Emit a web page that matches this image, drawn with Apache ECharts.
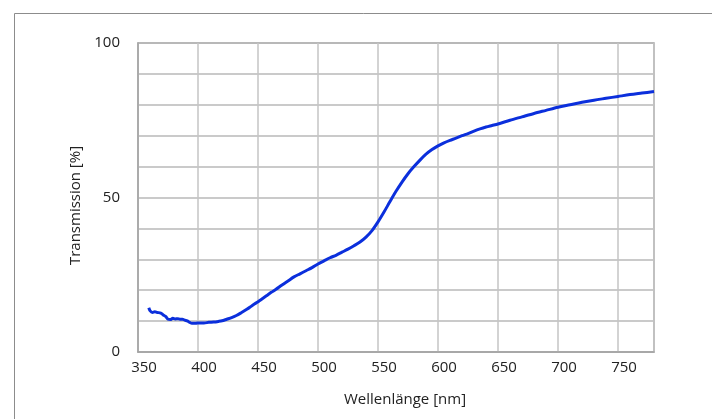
<!DOCTYPE html>
<html>
<head>
<meta charset="utf-8">
<script src="https://cdn.jsdelivr.net/npm/echarts@6/dist/echarts.min.js"></script>
<style>
  html, body { margin: 0; padding: 0; background: #ffffff; }
  #chart { width: 712px; height: 419px; }
</style>
</head>
<body>
<div id="chart"></div>
<script>
// Spectral transmission curve (wavelength in nm, transmission in %)
const wavelength = [
  359, 360, 362, 364, 366, 369, 371, 373, 375, 377, 379, 381, 383, 385, 387, 389,
  391, 393, 395, 398, 401, 405, 409, 413, 417, 420, 424, 428, 432, 436, 441, 445,
  449, 453, 457, 461, 465, 470, 475, 480, 485, 490, 495, 500, 505, 510, 515, 520,
  525, 530, 535, 540, 545, 550, 555, 560, 565, 570, 575, 580, 585, 590, 595, 600,
  605, 610, 615, 620, 625, 630, 635, 640, 645, 650, 660, 670, 680, 690, 700, 710,
  720, 730, 740, 750, 760, 770, 780
];
const transmission = [
  14.3, 13.4, 12.8, 13.0, 12.8, 12.6, 12.0, 11.5, 10.6, 10.5, 10.9, 10.7, 10.8, 10.6, 10.6, 10.3,
  10.1, 9.6, 9.3, 9.3, 9.4, 9.4, 9.6, 9.7, 9.9, 10.1, 10.6, 11.1, 11.8, 12.7, 13.9, 15.0,
  16.0, 17.1, 18.2, 19.3, 20.3, 21.7, 23.0, 24.3, 25.3, 26.3, 27.3, 28.5, 29.5, 30.5, 31.3, 32.3,
  33.3, 34.4, 35.6, 37.2, 39.3, 42.1, 45.3, 48.7, 52.0, 55.0, 57.7, 60.0, 62.1, 64.0, 65.5, 66.7,
  67.7, 68.5, 69.2, 70.0, 70.7, 71.5, 72.2, 72.8, 73.3, 73.8, 75.0, 76.1, 77.2, 78.2, 79.2, 80.0,
  80.8, 81.5, 82.1, 82.7, 83.3, 83.8, 84.3
];
const yLabelValues = [0, 50, 100];
const xTitle = 'Wellenlänge [nm]';
const yTitle = 'Transmission [%]';

const points = wavelength.map((w, i) => [w, transmission[i]]);
const font = 'Open Sans';

const chart = echarts.init(document.getElementById('chart'), null, { renderer: 'canvas' });
chart.setOption({
  backgroundColor: '#ffffff',
  animation: false,
  graphic: [{
    type: 'rect',
    left: 12, top: 11,
    shape: { width: 740, height: 440 },
    style: { fill: 'none', stroke: '#8c8c8c', lineWidth: 1 },
    silent: true
  }],
  grid: {
    left: 138, right: 58, top: 43, bottom: 67,
    show: true, borderColor: '#a3a3a3', borderWidth: 1.5
  },
  xAxis: {
    type: 'value',
    min: 350, max: 780, interval: 50,
    name: xTitle,
    nameLocation: 'middle',
    nameGap: 40,
    nameTextStyle: { fontFamily: font, fontSize: 15, color: '#222', padding: [0, 0, 0, 18] },
    axisLine: { show: true, lineStyle: { color: '#a3a3a3', width: 1.5 } },
    axisTick: { show: false },
    axisLabel: {
      fontFamily: font, fontSize: 15, color: '#222', margin: 8,
      padding: [0, 0, 0, 12], showMaxLabel: false
    },
    splitLine: { show: true, lineStyle: { color: '#c4c4c4', width: 1.5 } }
  },
  yAxis: {
    type: 'value',
    min: 0, max: 100, interval: 10,
    name: yTitle,
    nameLocation: 'middle',
    nameGap: 53,
    nameTextStyle: { fontFamily: font, fontSize: 15, color: '#222', padding: [0, 16, 0, 0] },
    axisLine: { show: true, lineStyle: { color: '#a3a3a3', width: 1.5 } },
    axisTick: { show: false },
    axisLabel: {
      fontFamily: font, fontSize: 15, color: '#222', margin: 18,
      formatter: v => (yLabelValues.includes(v) ? String(v) : '')
    },
    splitLine: { show: true, lineStyle: { color: '#b8b8b8', width: 1.5 } }
  },
  series: [{
    type: 'line',
    data: points,
    showSymbol: false,
    smooth: 0.3,
    lineStyle: { color: '#0b2fdc', width: 3 },
    silent: true
  }]
});
</script>
</body>
</html>
